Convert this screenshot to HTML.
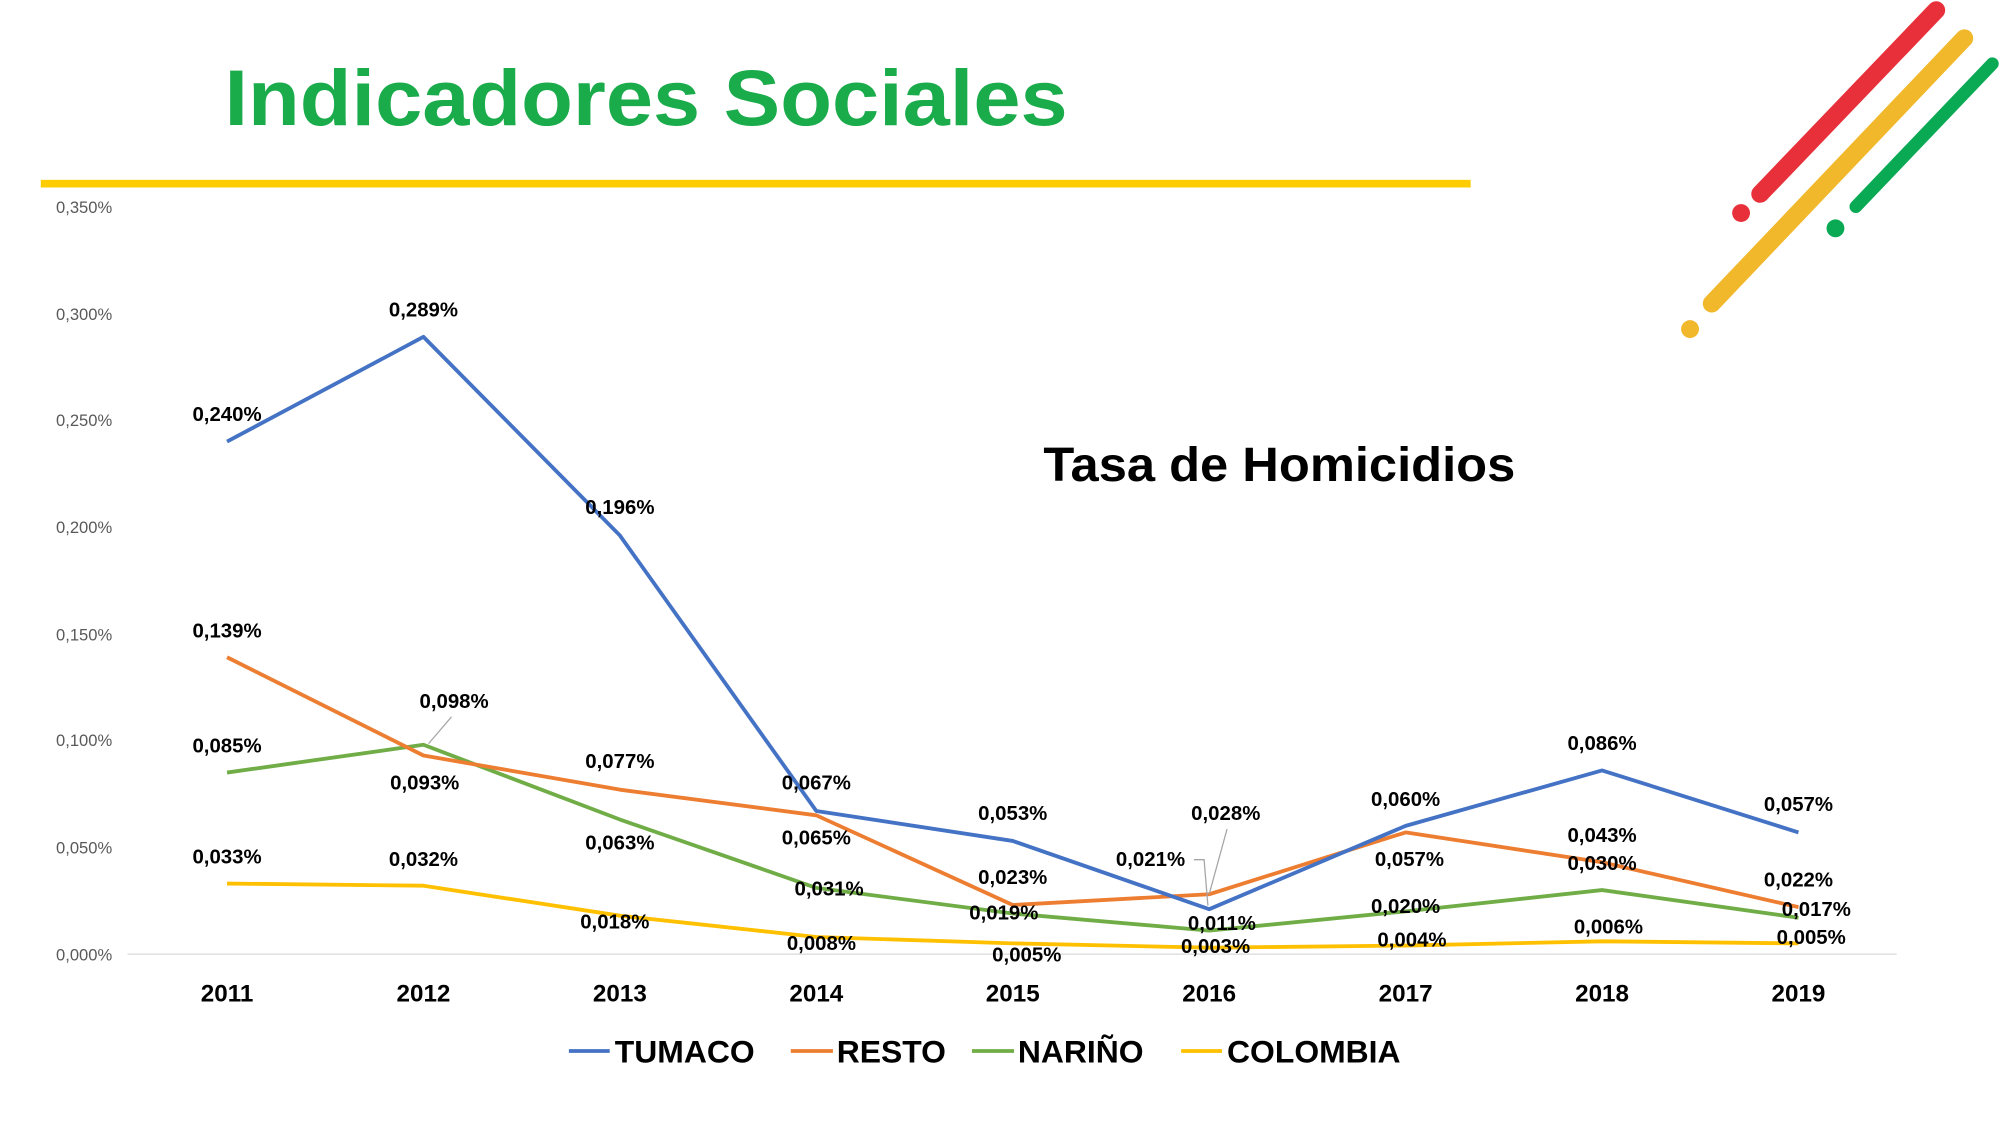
<!DOCTYPE html>
<html><head><meta charset="utf-8"><style>
html,body{margin:0;padding:0;background:#fff;}
svg{display:block;}
text{font-family:"Liberation Sans",sans-serif;}
.l{font-size:16px;font-weight:bold;fill:#000;text-anchor:middle;}
.t{font-size:13px;fill:#595959;text-anchor:end;}
.y{font-size:19px;font-weight:bold;text-anchor:middle;}
.g{font-size:25px;font-weight:bold;}
</style></head><body>
<svg width="2000" height="1125" viewBox="0 0 1568 882" preserveAspectRatio="none" xmlns="http://www.w3.org/2000/svg">
<rect width="1568" height="882" fill="#fff"/>
<text x="176" y="98" font-size="62" font-weight="bold" fill="#1aab4b" textLength="661" lengthAdjust="spacingAndGlyphs">Indicadores Sociales</text>
<rect x="32" y="141" width="1121" height="6" fill="#ffcc00"/>
<g stroke-linecap="round">
<line x1="1380" y1="152" x2="1518" y2="8" stroke="#e8303a" stroke-width="14"/>
<line x1="1342" y1="238" x2="1540" y2="30" stroke="#f0b82a" stroke-width="14"/>
<line x1="1455" y1="162" x2="1562" y2="50" stroke="#0aaa55" stroke-width="10"/>
</g>
<circle cx="1365" cy="167" r="7" fill="#e8303a"/>
<circle cx="1325" cy="258" r="7" fill="#f0b82a"/>
<circle cx="1439" cy="179" r="7" fill="#0aaa55"/>
<text x="818" y="377" font-size="38" font-weight="bold" textLength="370" lengthAdjust="spacingAndGlyphs">Tasa de Homicidios</text>
<g class="t">
<text x="88" y="753">0,000%</text><text x="88" y="669">0,050%</text><text x="88" y="585">0,100%</text><text x="88" y="502">0,150%</text><text x="88" y="418">0,200%</text><text x="88" y="334">0,250%</text><text x="88" y="251">0,300%</text><text x="88" y="167">0,350%</text>
</g>
<line x1="100" y1="748" x2="1487" y2="748" stroke="#d9d9d9" stroke-width="1"/>
<g fill="none" stroke-width="3" stroke-linejoin="round">
<polyline stroke="#ffc000" points="178,692.7 332,694.4 486,717.9 640,734.6 794,739.6 948,743 1102,741.3 1256,738 1410,739.6"/>
<polyline stroke="#70ad47" points="178,605.7 332,583.9 486,642.5 640,696.1 794,716.2 948,729.6 1102,714.5 1256,697.8 1410,719.5"/>
<polyline stroke="#ed7d31" points="178,515.3 332,592.3 486,619.1 640,639.2 794,709.5 948,701.1 1102,652.6 1256,676 1410,711.2"/>
<polyline stroke="#4472c4" points="178,346.2 332,264.1 486,419.8 640,635.8 794,659.3 948,712.8 1102,647.5 1256,604 1410,652.6"/>
</g>
<g stroke="#a6a6a6" stroke-width="1" fill="none">
<polyline points="948,701 962,650"/>
<polyline points="336,583 354,562"/>
<polyline points="936,674 944,674 947,710"/>
</g>
<g class="l">
<text x="178" y="330">0,240%</text><text x="332" y="248">0,289%</text><text x="486" y="403">0,196%</text><text x="640" y="619">0,067%</text><text x="794" y="643">0,053%</text><text x="902" y="679">0,021%</text><text x="961" y="643">0,028%</text><text x="1102" y="632">0,060%</text><text x="1256" y="588">0,086%</text><text x="1410" y="636">0,057%</text>
<text x="178" y="500">0,139%</text><text x="333" y="619">0,093%</text><text x="486" y="602">0,077%</text><text x="640" y="662">0,065%</text><text x="794" y="693">0,023%</text><text x="1105" y="679">0,057%</text><text x="1256" y="660">0,043%</text><text x="1410" y="695">0,022%</text>
<text x="178" y="590">0,085%</text><text x="356" y="555">0,098%</text><text x="486" y="666">0,063%</text><text x="650" y="702">0,031%</text><text x="787" y="721">0,019%</text><text x="958" y="729">0,011%</text><text x="1102" y="716">0,020%</text><text x="1256" y="682">0,030%</text><text x="1424" y="718">0,017%</text>
<text x="178" y="677">0,033%</text><text x="332" y="679">0,032%</text><text x="482" y="728">0,018%</text><text x="644" y="745">0,008%</text><text x="805" y="754">0,005%</text><text x="953" y="747">0,003%</text><text x="1107" y="742">0,004%</text><text x="1261" y="732">0,006%</text><text x="1420" y="740">0,005%</text>
</g>
<g class="y">
<text x="178" y="785">2011</text><text x="332" y="785">2012</text><text x="486" y="785">2013</text><text x="640" y="785">2014</text><text x="794" y="785">2015</text><text x="948" y="785">2016</text><text x="1102" y="785">2017</text><text x="1256" y="785">2018</text><text x="1410" y="785">2019</text>
</g>
<g stroke-width="3">
<line x1="446" y1="824" x2="478" y2="824" stroke="#4472c4"/>
<line x1="620" y1="824" x2="653" y2="824" stroke="#ed7d31"/>
<line x1="762" y1="824" x2="795" y2="824" stroke="#70ad47"/>
<line x1="926" y1="824" x2="958" y2="824" stroke="#ffc000"/>
</g>
<g class="g">
<text x="482" y="833">TUMACO</text><text x="656" y="833">RESTO</text><text x="798" y="833">NARIÑO</text><text x="962" y="833">COLOMBIA</text>
</g>
</svg>
</body></html>
